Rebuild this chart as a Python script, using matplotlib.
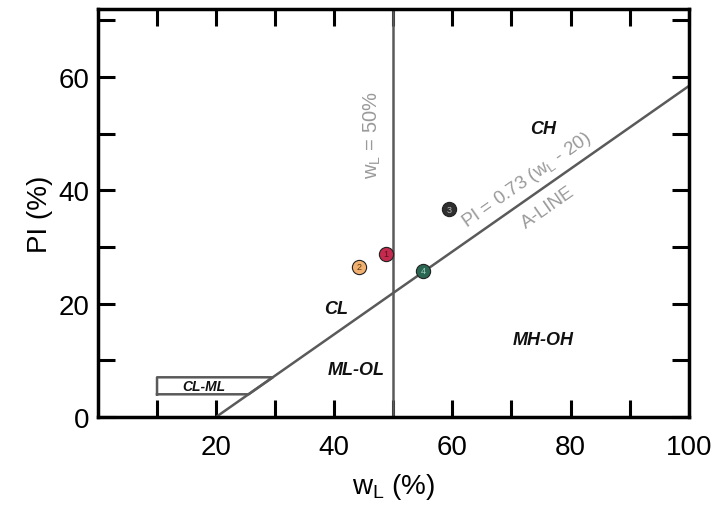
import numpy as np
import matplotlib
matplotlib.use("Agg")
import matplotlib.pyplot as plt

plt.rcParams['font.family'] = ['Liberation Sans', 'DejaVu Sans']

# Data
sample_ids = ["1", "2", "3", "4"]
wl_values = [48.7, 44.2, 59.4, 55.0]
pi_values = [28.8, 26.5, 36.7, 25.8]
point_colors = ["#c42a4e", "#f2b070", "#2f2f2f", "#2b6653"]
text_colors = ["#5a1020", "#5a3a10", "#bbbbbb", "#9fd0c0"]

aline_slope = 0.73
aline_offset = 20
aline_x = [20, 100]
wl_boundary = 50
clml_x = [10, 25.5, 29.6, 10]
clml_y = [4, 4, 7, 7]

zone_labels = ["CH", "CL", "ML-OL", "MH-OH", "CL-ML"]
zone_x = [75.4, 40.3, 43.7, 75.4, 18.0]
zone_y = [51.0, 19.1, 8.4, 13.7, 5.4]

x_ticks = [20, 40, 60, 80, 100]
y_ticks = [0, 20, 40, 60]

fig = plt.figure(figsize=(7.23, 5.06), dpi=100)
ax = fig.add_axes([0.1355, 0.174, 0.817, 0.806])

ax.set_xlim(0, 100)
ax.set_ylim(0, 72)

line_col = "#5a5a5a"
# A-line
ax.plot(aline_x, [aline_slope * (x - aline_offset) for x in aline_x], color=line_col, lw=1.8, zorder=2)
# wL = 50 line
ax.axvline(wl_boundary, color=line_col, lw=1.8, zorder=2)
# CL-ML polygon
ax.plot(clml_x + [clml_x[0]], clml_y + [clml_y[0]], color=line_col, lw=1.8, zorder=2)

# points
for sid, xv, yv, c, tc in zip(sample_ids, wl_values, pi_values, point_colors, text_colors):
    ax.scatter([xv], [yv], s=105, color=c, edgecolor="#222222", linewidth=0.8, zorder=4)
    ax.text(xv, yv, sid, ha="center", va="center", fontsize=6.5, color=tc, zorder=5)

# zone labels
for lab, xv, yv in zip(zone_labels, zone_x, zone_y):
    fs = 10 if lab == "CL-ML" else 13
    ax.text(xv, yv, lab, ha="center", va="center", fontsize=fs, fontweight="bold",
            fontstyle="italic", color="#111111", zorder=3)

ang = np.degrees(np.arctan(aline_slope))
ax.text(72.6, 42.0, r"PI = 0.73 (w$_\mathregular{L}$ - 20)", rotation=ang, rotation_mode="anchor",
        transform_rotates_text=True, ha="center", va="center", fontsize=13.5, color="#9a9a9a")
ax.text(76.3, 37.0, "A-LINE", rotation=ang, rotation_mode="anchor",
        transform_rotates_text=True, ha="center", va="center", fontsize=13.5, color="#9a9a9a")
ax.text(46.4, 50, r"w$_\mathregular{L}$ = 50%", rotation=90, ha="center", va="center",
        fontsize=14.5, color="#9a9a9a")

# ticks
ax.set_xticks(x_ticks)
ax.set_xticklabels([str(t) for t in x_ticks])
ax.set_yticks(y_ticks)
ax.set_yticklabels([str(t) for t in y_ticks])
ax.set_xticks(np.arange(10, 100, 10), minor=True)
ax.set_yticks(np.arange(10, 72, 10), minor=True)
ax.tick_params(which="both", direction="in", length=12.5, width=2.2, top=True, right=True,
               labelsize=20, pad=6)
ax.tick_params(axis="x", which="both", pad=12)
for s in ax.spines.values():
    s.set_linewidth(2.5)

ax.set_xlabel(r"w$_\mathregular{L}$ (%)", fontsize=20, labelpad=8)
ax.set_ylabel("PI (%)", fontsize=20, labelpad=4)

fig.savefig("out.png", dpi=100)
